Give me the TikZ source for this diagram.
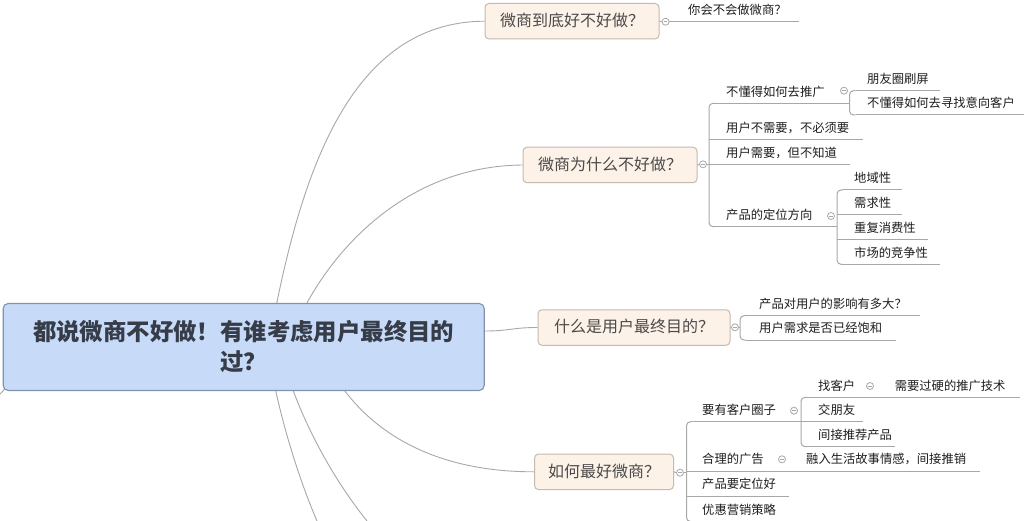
\documentclass[tikz,border=0pt]{standalone}
\usepackage{fontspec}
\setmainfont{Noto Sans CJK SC}
\pgfdeclarelayer{bg}
\pgfsetlayers{bg,main}
\definecolor{lnc}{HTML}{A8A8A8}
\definecolor{rootfill}{HTML}{C7DBF9}
\definecolor{rootdraw}{HTML}{8292AC}
\definecolor{roottext}{HTML}{363C48}
\definecolor{brfill}{HTML}{FDF2E8}
\definecolor{brdraw}{HTML}{C6BAAE}
\definecolor{brtext}{HTML}{4A4A4A}
\definecolor{leaftext}{HTML}{1E1E1E}
\tikzset{
  ln/.style={draw=lnc, line width=1pt},
  curve/.style={draw=lnc, line width=0.9pt},
  brack/.style={draw=lnc, line width=1pt, rounded corners=4pt},
  rootbox/.style={draw=rootdraw, fill=rootfill, rounded corners=5pt, line width=1.1pt,
    minimum width=481pt, minimum height=87pt, align=center, inner sep=0pt,
    font=\fontsize{23.4}{30}\selectfont\bfseries, text=roottext},
  branch/.style={draw=brdraw, fill=brfill, rounded corners=4pt, line width=1pt,
    minimum height=35.5pt, inner sep=0pt, text height=12.5pt, text depth=2pt,
    font=\fontsize{16}{16}\selectfont, text=brtext},
  knob/.style={circle, draw=lnc, fill=white, line width=0.8pt, minimum size=7pt, inner sep=0pt,
    path picture={\draw[lnc, line width=0.6pt]
      ([xshift=-1.8pt]path picture bounding box.center) -- ([xshift=1.8pt]path picture bounding box.center);}},
  leaf/.style={anchor=south west, inner xsep=0pt, inner ysep=5pt, text height=9pt, text depth=2pt,
    font=\fontsize{12.3}{12.3}\selectfont, text=leaftext}
}
\newcommand\mmleaf[7][0]{%
  \node[leaf] (#2) at (#3,#4) {\hspace*{\dimexpr #6pt-#3pt\relax}\makebox[\dimexpr #5pt-#6pt\relax][l]{#7}};
  \draw[ln] ([xshift=#1pt]#2.south west) -- (#2.south east);
}
\begin{document}
\begin{tikzpicture}[x=1pt,y=-1pt]
\begin{pgfonlayer}{bg}
  \fill[white] (0,0) rectangle (1024,521);
\end{pgfonlayer}
\useasboundingbox (0,0) rectangle (1024,521);

% root and branches
\node[rootbox] (root) at (243.7,347) {都说微商不好做！有谁考虑用户最终目的\\过？};
\node[branch, minimum width=174pt] (b1) at (572,21.2) {微商到底好不好做？};
\node[branch, minimum width=174pt] (b2) at (610,165) {微商为什么不好做？};
\node[branch, minimum width=192pt] (b3) at (634,327.5) {什么是用户最终目的？};
\node[branch, minimum width=139pt] (b4) at (604,471.8) {如何最好微商？};

\coordinate (d0) at (-2,396);
\coordinate (d5) at (317,521);
\coordinate (d6) at (367,521);

\begin{pgfonlayer}{bg}
  \draw[curve] ([xshift=26pt,yshift=7pt]root.center) .. controls (300,172) and (350,22) .. (b1.west);
  \draw[curve] ([xshift=46pt,yshift=7pt]root.center) .. controls (320,260) and (400,166) .. (b2.west);
  \draw[curve] ([yshift=16pt]root.east) .. controls (510,331) and (512,327.5) .. (b3.west);
  \draw[curve] ([xshift=76pt]root.center) .. controls (350,420) and (420,472) .. (b4.west);
  \draw[curve] ([xshift=24pt]root.center) .. controls (275,400) and (295,470) .. (d5);
  \draw[curve] ([xshift=36pt]root.center) .. controls (295,410) and (330,475) .. (d6);
  \draw[curve] ([xshift=-233pt,yshift=-36pt]root.center) -- (d0);
\end{pgfonlayer}

% ---- branch 1
\node[knob] (c1) at (665.6,21.7) {};
\draw[ln] (b1.east) -- (c1.west);
\mmleaf{l1}{669.4}{21.7}{799}{688}{你会不会做微商？}

% ---- branch 2
\node[knob] (c2) at (703,164.3) {};
\mmleaf[6]{k1}{709}{103.3}{849.5}{726}{不懂得如何去推广}
\mmleaf{k2}{709}{140}{863}{726}{用户不需要，不必须要}
\mmleaf{k3}{709}{164.3}{849.5}{726}{用户需要，但不知道}
\mmleaf[6]{k4}{709}{226.7}{837}{726}{产品的定位方向}
\draw[ln] (b2.east) -- (c2.west);
\draw[ln] (c2.east) -- (c2.east -| k1.south west);
\draw[brack] ([xshift=6pt]k1.south west) -- (k1.south west) -- (k4.south west) -- ([xshift=6pt]k4.south west);

\node[knob] (ck1) at (844,90.7) {};
\mmleaf[6]{m1}{849.5}{90.7}{940}{867}{朋友圈刷屏}
\mmleaf[6]{m2}{849.5}{115}{1024}{867}{不懂得如何去寻找意向客户}
\draw[brack] ([xshift=6pt]m1.south west) -- (m1.south west) -- (m2.south west) -- ([xshift=6pt]m2.south west);

\node[knob] (ck4) at (831,216) {};
\mmleaf[6]{n1}{837}{190}{901.6}{854}{地域性}
\mmleaf{n2}{837}{215}{901.6}{854}{需求性}
\mmleaf{n3}{837}{239.3}{927.6}{854}{重复消费性}
\mmleaf[6]{n4}{837}{264.3}{939.7}{854}{市场的竞争性}
\draw[brack] ([xshift=6pt]n1.south west) -- (n1.south west) -- (n4.south west) -- ([xshift=6pt]n4.south west);

% ---- branch 3
\node[knob] (c3) at (735,327.3) {};
\mmleaf[6]{p1}{740}{315.7}{920}{759}{产品对用户的影响有多大？}
\mmleaf[6]{p2}{740}{340}{896}{759}{用户需求是否已经饱和}
\draw[ln] (b3.east) -- (c3.west);
\draw[ln] (c3.east) -- (c3.east -| p1.south west);
\draw[brack] ([xshift=6pt]p1.south west) -- (p1.south west) -- (p2.south west) -- ([xshift=6pt]p2.south west);

% ---- branch 4
\node[knob] (c4) at (680,472.7) {};
\mmleaf[6]{g1}{686.5}{421.7}{801}{702}{要有客户圈子}
\mmleaf{g2}{686.5}{471}{786}{702}{合理的广告}
\mmleaf{g3}{686.5}{496}{789}{702}{产品要定位好}
\mmleaf[6]{g4}{686.5}{521.5}{789}{702}{优惠营销策略}
\draw[ln] (b4.east) -- (c4.west);
\draw[ln] (c4.east) -- (c4.east -| g1.south west);
\draw[brack] ([xshift=6pt]g1.south west) -- (g1.south west) -- (g4.south west) -- ([xshift=6pt]g4.south west);

\node[knob] (cg1) at (794,410.7) {};
\mmleaf[6]{h1}{801}{397.3}{874}{818}{找客户}
\mmleaf{h2}{801}{421.7}{863}{818}{交朋友}
\mmleaf[6]{h3}{801}{446.7}{894.6}{818}{间接推荐产品}
\draw[brack] ([xshift=6pt]h1.south west) -- (h1.south west) -- (h3.south west) -- ([xshift=6pt]h3.south west);
\node[knob] (ch1) at (870,386) {};
\mmleaf{h1c}{874}{397.3}{1019.6}{894.6}{需要过硬的推广技术}

\node[knob] (cg2) at (782,459.3) {};
\mmleaf{g2c}{786}{471}{979.6}{806}{融入生活故事情感，间接推销}
\end{tikzpicture}
\end{document}
